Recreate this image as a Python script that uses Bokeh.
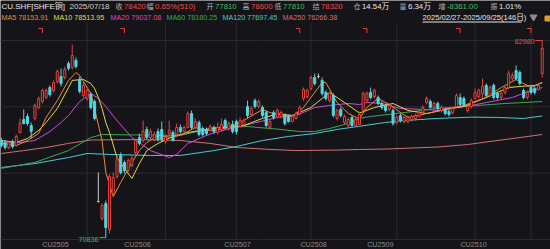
from bokeh.plotting import figure
from bokeh.models import Range1d, Label, ColumnDataSource
from bokeh.embed import file_html
from bokeh.resources import INLINE

# ---------------- data (SHFE copper, 2025/02/27 - 2025/09/25, 146 sessions) ----------------
opens = [76820, 76700, 76390, 76760, 76510, 77310, 78110, 78300, 77740, 78180,
         78850, 79220, 79470, 80080, 79900, 80450, 80760, 80700, 81560, 81320,
         81750, 80580, 79590, 79410, 79650, 79220, 73060, 72010, 72940, 71340,
         73550, 74600, 75900, 75460, 74970, 75280, 76080, 77000, 76820, 77500,
         77000, 76880, 77370, 77500, 76760, 77250, 77310, 77190, 77620, 77370,
         77620, 78480, 77620, 77930, 77560, 77500, 77440, 77620, 77310, 77500,
         78050, 77560, 77810, 77990, 77680, 77810, 78910, 78420, 79280, 78910,
         78850, 78540, 77620, 78540, 78240, 78300, 78360, 78300, 77990, 78180,
         78480, 79410, 79530, 80020, 80700, 80760, 80520, 79780, 79280, 79590,
         78180, 78730, 77930, 77740, 78240, 77740, 77810, 78670, 79280, 79780,
         79530, 79470, 79100, 78980, 78730, 78670, 77930, 78360, 77990, 77990,
         78110, 78180, 78300, 78540, 79160, 79220, 78850, 79100, 78670, 78730,
         78610, 78540, 78910, 79470, 79410, 78670, 78910, 79410, 79530, 79720,
         80210, 79590, 80210, 79720, 79470, 79780, 80080, 80640, 81130, 81010,
         79900, 79470, 80080, 80020, 79960, 80950]
highs = [77000, 76820, 76820, 76880, 77190, 78180, 78730, 78480, 77930, 79100,
         79530, 80020, 80020, 80210, 80520, 81190, 81260, 81380, 81690, 82730,
         81930, 80760, 80390, 80020, 79780, 79350, 74850, 72940, 73120, 74730,
         74850, 75900, 76080, 75590, 75710, 75900, 76940, 77250, 78050, 77680,
         77560, 77370, 77560, 77990, 77190, 78050, 77440, 77870, 77810, 77740,
         78610, 78670, 78180, 78050, 77680, 77620, 77810, 77740, 77930, 78180,
         78180, 77990, 78050, 78110, 78240, 78180, 79280, 78910, 79410, 79350,
         78980, 78670, 78110, 78670, 78790, 78670, 78480, 78420, 78420, 78610,
         78980, 80080, 80020, 80820, 80950, 80950, 80700, 79900, 79840, 79720,
         78790, 78850, 78420, 78240, 78360, 78240, 78600, 79840, 79840, 80080,
         80020, 79590, 79220, 79100, 79100, 78790, 78360, 78480, 78360, 78360,
         78420, 78480, 78670, 78980, 79530, 79350, 79220, 79220, 78980, 78850,
         78730, 78910, 79720, 79720, 79530, 79040, 79410, 80020, 80020, 80640,
         80330, 80210, 80330, 79840, 79840, 80210, 81130, 81010, 81440, 81130,
         80020, 79900, 80210, 80150, 80330, 82980]
lows = [76390, 76270, 76270, 76330, 76450, 77250, 77810, 77740, 76940, 78050,
        78730, 79100, 79350, 79530, 79780, 80330, 80150, 80580, 81130, 81190,
        81260, 79720, 79470, 79280, 78730, 78050, 73000, 71890, 70836, 71090,
        73370, 74480, 74730, 74790, 74850, 75160, 75960, 76510, 76700, 76880,
        76880, 76760, 76760, 76760, 76640, 77130, 76760, 77070, 77250, 77250,
        77560, 77500, 77500, 77070, 77070, 77130, 77370, 77250, 77190, 77370,
        77500, 77440, 77250, 77190, 77620, 77680, 78180, 78300, 78790, 78790,
        78240, 77620, 77500, 78110, 78180, 78180, 77740, 77930, 77930, 78110,
        78360, 79280, 79410, 79900, 80210, 80640, 79590, 79280, 79160, 78240,
        78050, 78240, 77810, 77620, 77680, 77680, 77810, 78540, 79160, 79350,
        79410, 78980, 78730, 78540, 78610, 77740, 77810, 77930, 77870, 77870,
        77990, 78050, 78240, 78480, 79040, 78790, 78730, 78670, 78540, 78360,
        78300, 78420, 78850, 78910, 78910, 78540, 78790, 79350, 79410, 79410,
        79470, 79470, 79350, 79350, 79350, 79650, 79960, 80520, 80520, 80210,
        79350, 79350, 79650, 79650, 79900, 80700]
closes = [76510, 76390, 76700, 76450, 77070, 77870, 77870, 77870, 77370, 78980,
          79410, 79900, 79900, 79650, 80390, 81070, 80330, 81190, 81260, 82060,
          81380, 79840, 80210, 79900, 78850, 78180, 73060, 72820, 71460, 74600,
          74540, 75710, 74850, 74970, 75590, 75710, 76820, 76640, 77370, 77000,
          77370, 77190, 76880, 76880, 77000, 77440, 76820, 77620, 77370, 77620,
          78480, 77620, 77990, 77190, 77190, 77250, 77680, 77370, 77620, 77810,
          77620, 77870, 77370, 77370, 78050, 78050, 78360, 78790, 78910, 79220,
          78360, 77740, 77990, 78240, 78670, 78540, 77870, 77990, 78300, 78480,
          78850, 79960, 79900, 80700, 80330, 80760, 79720, 79410, 79720, 78360,
          78670, 78360, 78300, 78110, 77740, 78110, 78420, 79720, 79720, 79470,
          79900, 79100, 78850, 78670, 78980, 77870, 78240, 78050, 78240, 78240,
          78300, 78360, 78540, 78850, 79410, 78850, 79100, 78790, 78850, 78480,
          78420, 78790, 79590, 79040, 79040, 78910, 79280, 79780, 79900, 80150,
          79590, 80080, 79470, 79470, 79720, 80080, 80950, 80820, 80640, 80330,
          79470, 79780, 79780, 79780, 80210, 82490]

# moving averages (session index, value)
ma5_i = [0, 4, 7, 10, 12, 15, 18, 20, 21, 24, 27, 28, 30, 32, 35, 37, 39, 42, 46, 49,
         52, 55, 57, 61, 65, 70, 72, 74, 78, 81, 83, 86, 87, 90, 93, 96, 98, 101, 104,
         107, 109, 114, 119, 124, 130, 134, 138, 142, 145]
ma5_v = [76640, 76510, 76820, 77250, 78240, 79280, 80520, 81010, 80820, 79720, 76820,
         74850, 73370, 74230, 75470, 76200, 76700, 77130, 77000, 77250, 77620, 77440,
         77440, 77620, 78050, 78730, 78540, 78420, 78300, 78850, 79470, 80390, 80390,
         79160, 78480, 78154, 78850, 79410, 79040, 78540, 78240, 78480, 78730, 78980,
         79470, 80080, 80580, 80080, 80390]
ma10_i = [0, 4, 7, 10, 12, 15, 18, 19, 22, 24, 25, 26, 27, 28, 29, 31, 33, 35, 37, 39,
          42, 46, 50, 55, 57, 65, 70, 74, 78, 83, 86, 88, 92, 96, 100, 105, 109, 114,
          119, 124, 130, 136, 139, 143, 145]
ma10_v = [76820, 76700, 76940, 77440, 77930, 78790, 80080, 80520, 80580, 80330, 80020,
          79470, 78790, 77930, 77310, 75770, 75100, 74480, 75400, 76200, 76640, 77070,
          77310, 77500, 77560, 77740, 78180, 78480, 78360, 78850, 79410, 79780, 79160,
          78514, 78850, 79100, 78670, 78480, 78730, 78910, 79470, 80080, 80150, 80210,
          80390]
ma20_i = [0, 5, 9, 13, 16, 18, 21, 24, 26, 28, 31, 35, 40, 45, 47, 50, 55, 58, 65, 74,
          79, 84, 88, 93, 96, 98, 102, 107, 114, 117, 121, 126, 130, 137, 142, 145]
ma20_v = [76640, 76700, 76820, 77370, 77930, 78360, 79220, 79720, 79410, 78910, 78050,
          77000, 76200, 75770, 75960, 76640, 77130, 77370, 77740, 78240, 78360, 78850,
          78980, 79100, 79037, 79160, 79100, 78790, 78730, 78670, 78850, 78980, 79160,
          79470, 79900, 80080]
ma60_i = [0, 9, 18, 24, 27, 36, 48, 57, 66, 75, 80, 84, 88, 93, 96, 99, 108, 117, 126,
          135, 140, 145]
ma60_v = [75100, 75470, 76200, 77000, 77190, 77160, 77130, 77620, 77680, 77500, 77370,
          77370, 77560, 77870, 78180, 78300, 78540, 78790, 78950, 79100, 79160, 79220]
ma120_i = [0, 9, 18, 23, 29, 40, 48, 57, 63, 70, 77, 84, 90, 96, 103, 108, 117, 126,
           133, 140, 145]
ma120_v = [75160, 75400, 75770, 76020, 75960, 75900, 75900, 76200, 76450, 76820, 77070,
           77250, 77500, 77697, 77930, 78050, 78180, 78260, 78240, 78180, 78330]
ma250_i = [0, 6, 12, 18, 24, 36, 48, 56, 63, 72, 79, 90, 96, 104, 117, 125, 131, 138, 145]
ma250_v = [76020, 76200, 76390, 76640, 76850, 76880, 76820, 76640, 76390, 76270, 76200,
           76230, 76266, 76300, 76420, 76570, 76760, 76970, 77190]

month_start_idx = [23, 44, 63, 83, 106, 127, 142]
event_idx = [11, 33, 80, 98, 123, 142]
contract_labels = ["CU2505", "CU2506", "CU2507", "CU2508", "CU2509", "CU2510"]
contract_pos = [14.5, 36.5, 63.3, 83.7, 101.6, 126.6]

header_title = [("CU.SHF[SHFE铜]", 1, "white"), ("2025/07/18", 69, "light")]
header_pairs = [("收", "78420", 115, "red"), ("幅", "0.65%(510)", 146, "red"),
                ("开", "77810", 206, "green"), ("高", "78600", 242, "red"),
                ("低", "77810", 274, "green"), ("结", "78320", 312, "red"),
                ("仓", "14.54万", 353, "white"), ("量", "6.34万", 399, "white"),
                ("增", "-8361.00", 438, "green"), ("振", "1.01%", 490, "white")]
header_row2 = [("MA5 78153.91", 1, "ma5"), ("MA10 78513.95", 53, "ma10"),
               ("MA20 79037.08", 110, "ma20"), ("MA60 78180.25", 166, "ma60"),
               ("MA120 77697.45", 222, "ma120"), ("MA250 76266.38", 282, "ma250")]
range_text = "2025/02/27-2025/09/25(146日)"
high_text, low_text = "82980", "70836"

# ---------------- layout / style ----------------
W, H = 550, 249
X0_PX, STEP_PX = 0.86, 3.73
PRICE_AT_TOP, PRICE_PER_PX = 85444.0, 61.6


def xd(px):
    return (px - X0_PX) / STEP_PX


def yd(py):
    return PRICE_AT_TOP - PRICE_PER_PX * py


BG = "#151519"
GRID = "#2a2a30"
RED = "#e8413c"
CYAN = "#52d6e0"
GRAY = "#c8c8c8"
COL = {"white": "#e6e6e8", "light": "#cfcfd2", "label": "#b0b0b4", "red": "#f04a44",
       "green": "#3fbf5c", "ma5": "#ea8a3a", "ma10": "#e8d84c", "ma20": "#d846d8",
       "ma60": "#3ea853", "ma120": "#4ccad2", "ma250": "#d07272"}
FONT = "'Liberation Sans', 'Noto Sans CJK SC', sans-serif"

p = figure(width=W, height=H, x_range=Range1d(xd(0), xd(W)), y_range=Range1d(yd(H), yd(0)),
           output_backend="svg", toolbar_location=None, min_border=0,
           x_axis_location=None, y_axis_location=None)
p.grid.visible = False
p.outline_line_color = None
p.background_fill_color = BG
p.border_fill_color = BG

# grid
hy = [40, 106.3, 172.7, 239]
p.segment(x0=[xd(0)] * 4, y0=[yd(v) for v in hy], x1=[xd(W)] * 4, y1=[yd(v) for v in hy],
          line_color=GRID, line_width=1)
p.segment(x0=month_start_idx, y0=[yd(22)] * len(month_start_idx), x1=month_start_idx,
          y1=[yd(239)] * len(month_start_idx), line_color=GRID, line_width=1)

# MA lines
for xs, ys, key in [(ma250_i, ma250_v, "ma250"), (ma120_i, ma120_v, "ma120"),
                    (ma60_i, ma60_v, "ma60"), (ma20_i, ma20_v, "ma20"),
                    (ma10_i, ma10_v, "ma10"), (ma5_i, ma5_v, "ma5")]:
    p.line(xs, ys, line_color=COL[key], line_width=1)

# candles
n = len(opens)
idx = list(range(n))
lc, fc, top, bot = [], [], [], []
for o, c in zip(opens, closes):
    if c > o:
        lc.append(RED); fc.append(BG)
    elif c < o:
        lc.append(CYAN); fc.append(CYAN)
    else:
        lc.append(GRAY); fc.append(GRAY)
    top.append(max(o, c)); bot.append(min(o, c))
src = ColumnDataSource(dict(x=idx, h=highs, l=lows, t=top, b=bot, lc=lc, fc=fc))
p.segment(x0="x", y0="l", x1="x", y1="h", line_color="lc", line_width=1, source=src)
p.vbar(x="x", width=0.55, top="t", bottom="b", fill_color="fc", line_color="lc",
       line_width=1, source=src)

# event markers at the top
for i in event_idx:
    p.line([i - 4 / STEP_PX, i, i], [yd(28), yd(28), yd(32.5)], line_color=RED, line_width=1)


def txt(s, px, py, color, size, align="left"):
    p.add_layout(Label(x=xd(px), y=yd(py), text=s, text_color=color, text_font=FONT,
                       text_font_size=f"{size}px", text_align=align, text_baseline="middle"))


for s, px, key in header_title:
    txt(s, px, 6, COL[key], 8)
for lab, val, px, key in header_pairs:
    txt(lab, px, 6, COL["label"], 7)
    txt(val, px + 8.5, 6, COL[key], 7.8)
for s, px, key in header_row2:
    txt(s, px, 16.5, COL[key], 7.2)
txt(range_text, 422, 16.5, COL["white"], 7.6)
p.segment(x0=[xd(422)], y0=[yd(21.5)], x1=[xd(521)], y1=[yd(21.5)], line_color=COL["white"], line_width=1)
p.scatter(x=[xd(533)], y=[yd(16.5)], marker="inverted_triangle", size=7, color="#8e8e92")
p.rect(x=[xd(547)], y=[yd(18)], width=5 / STEP_PX, height=5 * PRICE_PER_PX, color="#e0a030")

# high / low annotations
hi_i = highs.index(max(highs))
lo_i = lows.index(min(lows))
txt(high_text, 534, 40.5, COL["red"], 7.2, "right")
p.line([xd(535), hi_i], [max(highs), max(highs)], line_color=RED, line_width=1)
txt(low_text, 98, 238.5, COL["green"], 7.2, "right")
p.line([xd(99), lo_i], [min(lows), min(lows)], line_color=COL["green"], line_width=1)

# contract labels
for s, i in zip(contract_labels, contract_pos):
    p.add_layout(Label(x=i, y=yd(243.5), text=s, text_color="#8c8c92", text_font=FONT,
                       text_font_size="7.2px", text_align="center", text_baseline="middle"))

open("out.html", "w").write(file_html(p, INLINE))
